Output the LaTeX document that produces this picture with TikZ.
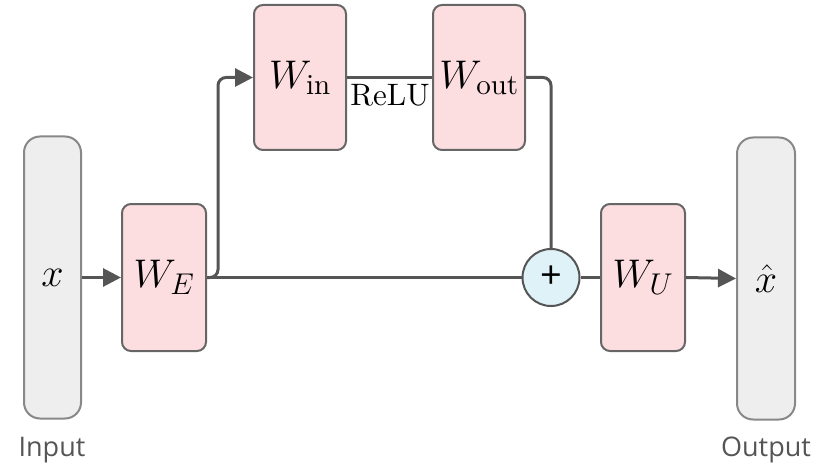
\RequirePackage{fix-cm}
\documentclass[tikz,border=0pt]{standalone}
\usepackage{fontspec}
\setsansfont{Open Sans}
\newfontfamily\lmten{lmroman10-regular}[Extension=.otf]
\newcommand{\subtxt}[1]{\hbox{\lmten\fontsize{29}{30}\selectfont #1}}
\DeclareMathSizes{40}{40}{30}{22}
\usetikzlibrary{arrows.meta}
\definecolor{pinkfill}{HTML}{FCDDE0}
\definecolor{greyfill}{HTML}{EEEEEE}
\definecolor{bluefill}{HTML}{DFF2F8}
\definecolor{edgecol}{HTML}{555555}
\definecolor{boxborder}{HTML}{666666}
\definecolor{greyborder}{HTML}{888888}
\definecolor{labelcol}{HTML}{555555}
\begin{document}
\begin{tikzpicture}[x=1pt,y=-1pt,
  wbox/.style={draw=boxborder, line width=2pt, fill=pinkfill, rounded corners=9pt,
    minimum width=84pt, minimum height=147pt, inner sep=0pt, font=\fontsize{40}{48}\selectfont},
  iobox/.style={draw=greyborder, line width=2pt, fill=greyfill, rounded corners=16pt,
    minimum width=57pt, minimum height=282pt, inner sep=0pt, font=\fontsize{40}{48}\selectfont},
  sumnode/.style={circle, draw=edgecol, line width=2pt, fill=bluefill, minimum size=57pt,
    inner sep=0pt, font=\sffamily\fontsize{38}{40}\selectfont},
  conn/.style={draw=edgecol, line width=3pt},
  arr/.style={conn, -{Triangle[length=18pt,width=18pt]}},
  iolabel/.style={text=labelcol, font=\sffamily\fontsize{27}{32}\selectfont},
]
\useasboundingbox (0,0) rectangle (830,476);

\node[iobox] (inp) at (52.5,277.5) {$x$};
\node[wbox] (WE) at (164,277.5) {$W_E$};
\node[wbox, minimum width=92pt, minimum height=145pt] (Win) at (300,77.5) {$W_{\subtxt{in}}$};
\node[wbox, minimum width=92pt, minimum height=145pt] (Wout) at (479,77.5) {$W_{\subtxt{out}}$};
\node[sumnode] (plus) at (551,277.5) {+};
\node[wbox] (WU) at (643,277.5) {$W_U$};
\node[iobox, minimum width=58pt] (outp) at (766,278.5) {$\hat{x}$};

\node[iolabel] (inlab) at (52,450) {Input};
\node[iolabel] (outlab) at (766,450) {Output};

\coordinate (branch) at (218,277.5);
\coordinate (branchtop) at (218,77.5);

\draw[arr] (inp.east) -- (WE.west);
\draw[conn] (WE.east) -- (plus.west);
\draw[arr, rounded corners=8pt] (WE.east) -- (branch) -- (branchtop) -- (Win.west);
\draw[conn] (Win.east) -- (Wout.west);
\node[font=\lmten\fontsize{31}{36}\selectfont, anchor=north, inner sep=0pt] (relu) at (390,84) {ReLU};
\draw[conn, rounded corners=8pt] (Wout.east) -| (plus.north);
\draw[conn] (plus.east) -- (WU.west);
\draw[arr] (WU.east) -- (outp.west);

\end{tikzpicture}
\end{document}
